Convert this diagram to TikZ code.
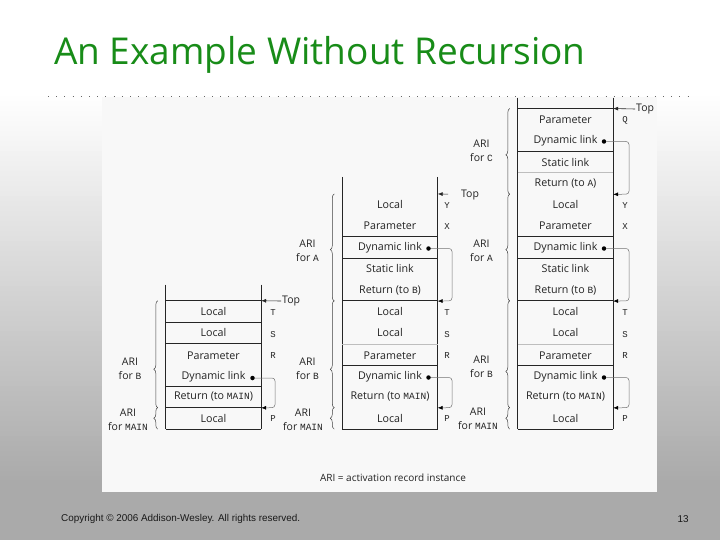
\documentclass[tikz,border=0pt]{standalone}
\usepackage{fontspec}
\setmainfont{Open Sans}
\newfontfamily\monof{Liberation Mono}
\newfontfamily\titlef{Open Sans}
\newfontfamily\footf{Liberation Sans}
\usetikzlibrary{arrows.meta,decorations.pathreplacing}
\definecolor{bggray}{RGB}{170,170,170}
\definecolor{titlegreen}{RGB}{24,140,24}
\definecolor{panelc}{RGB}{248,248,248}
\definecolor{txt}{RGB}{35,35,35}
\definecolor{sepc}{RGB}{190,190,190}
\newcommand{\mn}[1]{{\monof\fontsize{9.5}{10}\selectfont #1}}
\begin{document}
\begin{tikzpicture}[x=1pt,y=-1pt,
  row/.style={minimum width=95pt,minimum height=21.35pt,inner sep=0pt,text=txt,font=\fontsize{10.7}{12}\selectfont},
  reg/.style={text=txt,font=\monof\fontsize{9}{10}\selectfont,inner sep=0pt},
  ari/.style={text=txt,align=center,font=\fontsize{10.5}{14}\selectfont,inner sep=0pt},
  sepline/.style={line width=0.9pt,black!85},
  graysep/.style={line width=0.7pt,sepc},
  wall/.style={line width=0.8pt,black!85},
  dlink/.style={black!55,line width=0.5pt,rounded corners=3pt,-{Latex[length=5pt,width=4pt,color=black]}},
  topar/.style={black!85,line width=0.6pt,-{Latex[length=5pt,width=4pt]}},
  aribrace/.style={decorate,decoration={brace,amplitude=4pt,aspect=#1},black!75,line width=0.5pt},
  dotc/.style={circle,fill=black,inner sep=0pt,minimum size=4.5pt},
  toplbl/.style={text=txt,font=\fontsize{10.5}{12}\selectfont,inner sep=1pt},
  footer/.style={inner sep=0pt,text=black!90,font=\footf\fontsize{9.9}{11}\selectfont}
]
\useasboundingbox (0,0) rectangle (720,540);
% background: white at the top, fading to grey
\fill[white] (0,0) rectangle (720,96);
\foreach \i in {0,...,76} {
  \pgfmathsetmacro\pc{100*(\i+0.5)/77}
  \fill[bggray!\pc!white] (0,{96+5*\i}) rectangle (720,{101.6+5*\i});
}
\fill[bggray] (0,480) rectangle (720,540);
\fill[panelc] (102,97) rectangle (657,492);
\draw[black!60,line width=0.8pt,dash pattern=on 0.8pt off 7.4pt] (48,96) -- (692,96);

% title and footer
\node[anchor=west,inner sep=0pt,text=titlegreen,font=\titlef\fontsize{37}{40}\selectfont] (title) at (54,55) {An Example Without Recursion};
\node[anchor=west,footer] (copy) at (61,519) {Copyright © 2006 Addison-Wesley. All rights reserved.};
\node[footer] (pagenum) at (683,519) {13};
\node[text=txt,font=\fontsize{10}{12}\selectfont,inner sep=0pt] (note) at (393,478) {ARI = activation record instance};

% ---------- Stack 1 ----------
\node[row] (a0) at (213.5,418.3) {Local};
\node[row] (a1) at (213.5,397.0) {Return (to \mn{MAIN})};
\node[row] (a2) at (213.5,377.2) {Dynamic link};
\node[row] (a3) at (213.5,355.8) {Parameter};
\node[row] (a4) at (213.5,332.9) {Local};
\node[row] (a5) at (213.5,311.6) {Local};
\node[dotc] (aDot2) at (252.5,378) {};
\node[reg] (aP) at (273,418.3) {P};
\node[reg] (aR) at (273,356) {R};
\node[reg] (aS) at (273,334.5) {S};
\node[reg] (aT) at (273,313) {T};
\draw[wall] ([yshift=16pt]a5.north west) -- (a0.south west);
\draw[wall] ([yshift=16pt]a5.north east) -- (a0.south east);
\draw[sepline] (a0.south west) -- (a0.south east);
\draw[sepline] (a0.north west) -- (a0.north east);
\draw[sepline] (a1.north west) -- (a1.north east);
\draw[sepline] (a4.south west) -- (a4.south east);
\draw[sepline] (a4.north west) -- (a4.north east);
\draw[sepline] (a5.north west) -- (a5.north east);
\node[toplbl,anchor=west] (topA) at (281,301) {Top};
\draw[topar] (topA.west) -- (a5.north east);
\draw[dlink] (aDot2) -- (275,378) -- (275,407.65) -- (a1.south east);
\draw[aribrace=0.36] ([xshift=-8pt]a1.south west) -- ([xshift=-8pt]a5.north west);
\draw[aribrace=0.5] ([xshift=-8pt]a0.south west) -- ([xshift=-8pt]a0.north west);
\node[ari] (aLblB) at (130,369) {ARI\\for \mn{B}};
\node[ari] (aLblM) at (128,419.5) {ARI\\for \mn{MAIN}};

% ---------- Stack 2 ----------
\node[row] (b0) at (390,418.3) {Local};
\node[row] (b1) at (390,397.0) {Return (to \mn{MAIN})};
\node[row] (b2) at (390,376.6) {Dynamic link};
\node[row] (b3) at (390,355.3) {Parameter};
\node[row] (b4) at (390,332.9) {Local};
\node[row] (b5) at (390,311.6) {Local};
\node[row] (b6) at (390,290.2) {Return (to \mn{B})};
\node[row] (b7) at (390,268.9) {Static link};
\node[row] (b8) at (390,247.5) {Dynamic link};
\node[row] (b9) at (390,226.2) {Parameter};
\node[row] (b10) at (390,204.8) {Local};
\node[dotc] (bDot2) at (428.5,377.5) {};
\node[dotc] (bDot8) at (428.5,248.5) {};
\node[reg] (bP) at (447,418.3) {P};
\node[reg] (bR) at (447,356) {R};
\node[reg] (bS) at (447,334.5) {S};
\node[reg] (bT) at (447,313) {T};
\node[reg] (bX) at (447,226.5) {X};
\node[reg] (bY) at (447,205.5) {Y};
\draw[wall] ([yshift=17pt]b10.north west) -- (b0.south west);
\draw[wall] ([yshift=17pt]b10.north east) -- (b0.south east);
\draw[sepline] (b0.south west) -- (b0.south east);
\foreach \n in {b2,b5,b7,b8} \draw[sepline] (\n.north west) -- (\n.north east);
\draw[graysep] (b3.north west) -- (b3.north east);
\coordinate (bTopTail) at (448,194.15);
\draw[topar] (bTopTail) -- (b10.north east);
\node[toplbl] (topB) at (470,195.5) {Top};
\draw[dlink] (bDot2) -- (452,377.5) -- (452,407.65) -- (b1.south east);
\draw[dlink] (bDot8) -- (452,248.5) -- (452,300.9) -- (b6.south east);
\draw[aribrace=0.48] ([xshift=-8pt]b6.south west) -- ([xshift=-8pt]b10.north west);
\draw[aribrace=0.36] ([xshift=-8pt]b1.south west) -- ([xshift=-8pt]b5.north west);
\draw[aribrace=0.5] ([xshift=-8pt]b0.south west) -- ([xshift=-8pt]b0.north west);
\node[ari] (bLblA) at (307.5,251) {ARI\\for \mn{A}};
\node[ari] (bLblB) at (307.5,368.3) {ARI\\for \mn{B}};
\node[ari] (bLblM) at (303,419.5) {ARI\\for \mn{MAIN}};

% ---------- Stack 3 ----------
\node[row] (c0) at (565.5,418.3) {Local};
\node[row] (c1) at (565.5,397.0) {Return (to \mn{MAIN})};
\node[row] (c2) at (565.5,376.6) {Dynamic link};
\node[row] (c3) at (565.5,355.3) {Parameter};
\node[row] (c4) at (565.5,332.9) {Local};
\node[row] (c5) at (565.5,311.6) {Local};
\node[row] (c6) at (565.5,290.2) {Return (to \mn{B})};
\node[row] (c7) at (565.5,268.9) {Static link};
\node[row] (c8) at (565.5,247.5) {Dynamic link};
\node[row] (c9) at (565.5,226.2) {Parameter};
\node[row] (c10) at (565.5,204.8) {Local};
\node[row] (c11) at (565.5,183.5) {Return (to \mn{A})};
\node[row] (c12) at (565.5,162.1) {Static link};
\node[row] (c13) at (565.5,140.8) {Dynamic link};
\node[row] (c14) at (565.5,119.4) {Parameter};
\node[dotc] (cDot2) at (604,377.5) {};
\node[dotc] (cDot8) at (604,248.5) {};
\node[dotc] (cDot13) at (604,141.5) {};
\node[reg] (cP) at (625,418.3) {P};
\node[reg] (cR) at (625,356) {R};
\node[reg] (cS) at (625,334.5) {S};
\node[reg] (cT) at (625,313) {T};
\node[reg] (cX) at (625,226.5) {X};
\node[reg] (cY) at (625,205.5) {Y};
\node[reg] (cQ) at (625,120) {Q};
\draw[wall] ([yshift=11pt]c14.north west) -- (c0.south west);
\draw[wall] ([yshift=11pt]c14.north east) -- (c0.south east);
\draw[sepline] (c0.south west) -- (c0.south east);
\foreach \n in {c2,c5,c7,c8,c12,c14} \draw[sepline] (\n.north west) -- (\n.north east);
\foreach \n in {c3,c11} \draw[graysep] (\n.north west) -- (\n.north east);
\node[toplbl,anchor=west] (topC) at (635,109) {Top};
\draw[topar] (topC.west) -- (c14.north east);
\draw[dlink] (cDot2) -- (629,377.5) -- (629,407.65) -- (c1.south east);
\draw[dlink] (cDot8) -- (629,248.5) -- (629,300.9) -- (c6.south east);
\draw[dlink] (cDot13) -- (629,141.5) -- (629,194.15) -- (c11.south east);
\draw[aribrace=0.46] ([xshift=-8pt]c11.south west) -- ([xshift=-8pt]c14.north west);
\draw[aribrace=0.48] ([xshift=-8pt]c6.south west) -- ([xshift=-8pt]c10.north west);
\draw[aribrace=0.34] ([xshift=-8pt]c1.south west) -- ([xshift=-8pt]c5.north west);
\draw[aribrace=0.5] ([xshift=-8pt]c0.south west) -- ([xshift=-8pt]c0.north west);
\node[ari] (cLblC) at (481.5,151) {ARI\\for \mn{C}};
\node[ari] (cLblA) at (481.5,250.8) {ARI\\for \mn{A}};
\node[ari] (cLblB) at (481.5,366.7) {ARI\\for \mn{B}};
\node[ari] (cLblM) at (478,419.2) {ARI\\for \mn{MAIN}};
\end{tikzpicture}
\end{document}
